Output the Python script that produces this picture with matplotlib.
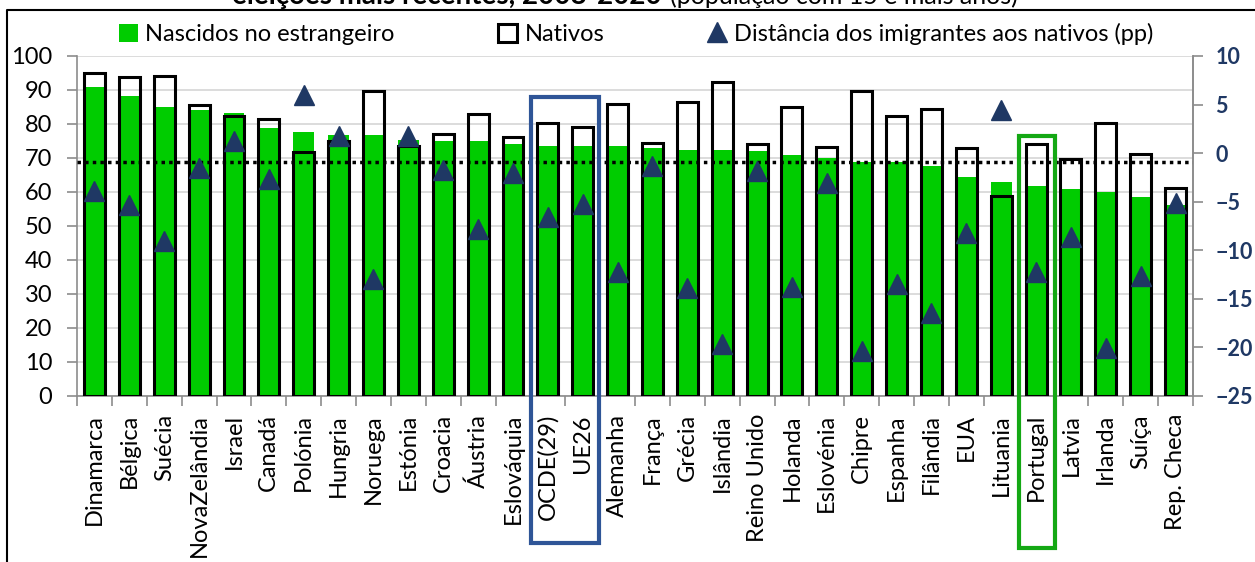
import matplotlib.pyplot as plt
import matplotlib.patches as mpatches
from matplotlib.lines import Line2D
import numpy as np

plt.rcParams['font.family'] = ['Lato', 'DejaVu Sans']

paises = ['Dinamarca', 'Bélgica', 'Suécia', 'NovaZelândia', 'Israel', 'Canadá',
          'Polónia', 'Hungria', 'Noruega', 'Estónia', 'Croacia', 'Áustria',
          'Eslováquia', 'OCDE(29)', 'UE26', 'Alemanha', 'França', 'Grécia',
          'Islândia', 'Reino Unido', 'Holanda', 'Eslovénia', 'Chipre', 'Espanha',
          'Filândia', 'EUA', 'Lituania', 'Portugal', 'Latvia', 'Irlanda', 'Suíça',
          'Rep. Checa']

# taxa de participação (%)
estrangeiro = [91.0, 88.3, 85.1, 84.1, 83.1, 78.7, 77.5, 76.8, 76.8, 75.4,
               75.1, 75.1, 74.1, 73.6, 73.6, 73.4, 73.0, 72.4, 72.4, 72.1,
               70.9, 69.9, 68.9, 68.7, 67.7, 64.5, 63.0, 61.8, 60.9, 60.1,
               58.4, 56.3]
nativos = [95.1, 93.7, 94.2, 85.5, 82.2, 81.6, 71.7, 75.1, 89.8, 73.6,
           77.1, 82.9, 76.3, 80.4, 79.0, 85.8, 74.5, 86.6, 92.2, 74.0,
           84.9, 73.1, 89.8, 82.4, 84.3, 72.8, 58.8, 74.1, 69.7, 80.2,
           71.2, 61.3]
# distância dos imigrantes aos nativos (pp), eixo da direita
distancia = [-3.9, -5.3, -9.0, -1.5, 1.2, -2.7, 6.0, 1.8, -13.0, 1.8,
             -1.7, -7.8, -2.0, -6.6, -5.2, -12.2, -1.3, -13.9, -19.7, -1.8,
             -13.8, -3.1, -20.4, -13.5, -16.5, -8.2, 4.4, -12.2, -8.6, -20.1,
             -12.7, -5.1]
linha_ref = 68.8

verde = '#00CC00'
azul = '#1F3864'
cinza = '#8C8C8C'

x = np.arange(len(paises))

fig = plt.figure(figsize=(12.55, 5.62), dpi=100)
ax = fig.add_axes([0.0614, 0.2954, 0.8892, 0.605])

ax.bar(x, estrangeiro, width=0.6, color=verde, zorder=2)
ax.bar(x, nativos, width=0.6, facecolor='none', edgecolor='black', linewidth=2.2, zorder=3)
ax.axhline(linha_ref, color='black', linestyle=(0, (1, 1.2)), linewidth=2.5, zorder=4)

ax.set_xlim(-0.5, len(paises) - 0.5)
ax.set_ylim(0, 100)
ax.set_yticks(range(0, 101, 10))
ax.yaxis.grid(True, color='#D9D9D9', linewidth=1.3, zorder=0)
ax.set_axisbelow(True)
ax.tick_params(axis='y', labelsize=17, length=7, color=cinza, width=1.2, pad=11)
ax.set_xticks(x)
ax.set_xticklabels(paises, rotation=90, fontsize=17)
ax.set_xticks(np.arange(-0.5, len(paises), 1), minor=True)
ax.tick_params(axis='x', which='major', length=0, pad=13)
ax.tick_params(axis='x', which='minor', length=7, color=cinza, width=1.2)
for s in ['left', 'bottom', 'right']:
    ax.spines[s].set_color(cinza)
    ax.spines[s].set_linewidth(1.2)
ax.spines['top'].set_visible(False)

ax2 = ax.twinx()
ax2.plot(x, distancia, linestyle='none', marker='^', markersize=14, color=azul, zorder=5)
ax2.set_ylim(-25, 10)
ax2.set_yticks(range(-25, 11, 5))
ax2.tick_params(axis='y', labelsize=15.5, length=7, color=cinza, width=1.2, labelcolor=azul, pad=9)
for lab in ax2.get_yticklabels():
    lab.set_fontweight('bold')
for s in ['left', 'bottom', 'top']:
    ax2.spines[s].set_visible(False)
ax2.spines['right'].set_color(cinza)
ax2.spines['right'].set_linewidth(1.2)

# caixas de destaque
i_ocde = paises.index('OCDE(29)')
ax.add_patch(mpatches.Rectangle((i_ocde - 0.47, -0.432), 1.95, 1.311,
                                transform=ax.get_xaxis_transform(), fill=False,
                                edgecolor='#2F5597', linewidth=3, clip_on=False, zorder=6))
i_pt = paises.index('Portugal')
ax.add_patch(mpatches.Rectangle((i_pt - 0.5, -0.447), 1.05, 1.213,
                                transform=ax.get_xaxis_transform(), fill=False,
                                edgecolor='#14A814', linewidth=3, clip_on=False, zorder=6))

# legenda
handles = [mpatches.Patch(facecolor=verde, edgecolor='none'),
           mpatches.Patch(facecolor='white', edgecolor='black', linewidth=2.2),
           Line2D([], [], linestyle='none', marker='^', markersize=14, color=azul)]
labels = ['Nascidos no estrangeiro', 'Nativos', 'Distância dos imigrantes aos nativos (pp)']
fig.legend(handles, labels, loc='center', bbox_to_anchor=(0.507, 0.94), ncol=3,
           frameon=False, fontsize=17, handlelength=0.8, handleheight=0.8,
           handletextpad=0.3, columnspacing=4.4)

# título (cortado no topo)
t1 = fig.text(232 / 1255, 1 - 4 / 562, 'eleições mais recentes, 2008-2020', fontsize=20,
              fontweight='bold', va='baseline', ha='left')
fig.canvas.draw()
bb = t1.get_window_extent()
fig.text((bb.x1 + 8) / 1255, 1 - 4 / 562, '(população com 15 e mais anos)', fontsize=18,
         va='baseline', ha='left')

# moldura
fig.add_artist(Line2D([7 / 1255, 7 / 1255, 1], [0, 1 - 10 / 562, 1 - 10 / 562],
                      color='black', linewidth=1.5))

fig.savefig('out.png', dpi=100)
